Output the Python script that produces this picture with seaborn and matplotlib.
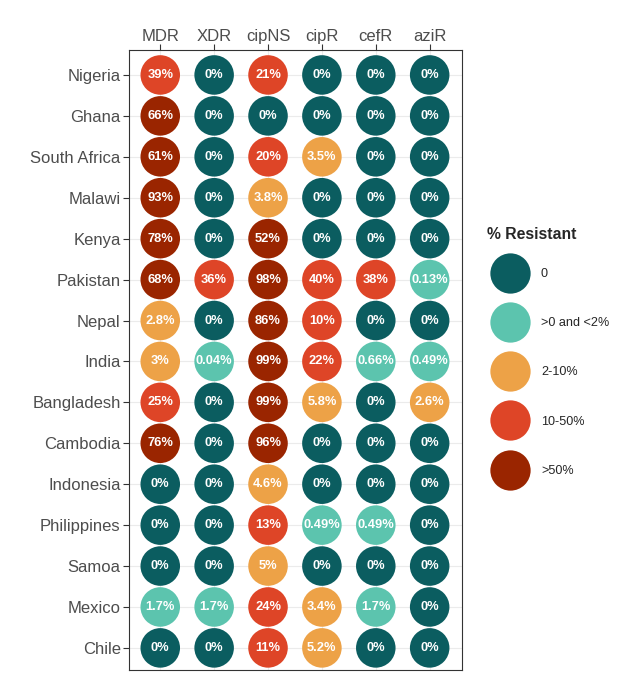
import matplotlib
matplotlib.use("Agg")
import matplotlib.pyplot as plt
from matplotlib.lines import Line2D
from matplotlib.transforms import ScaledTranslation
import seaborn as sns
import pandas as pd
import numpy as np

countries = ["Nigeria", "Ghana", "South Africa", "Malawi", "Kenya", "Pakistan", "Nepal",
             "India", "Bangladesh", "Cambodia", "Indonesia", "Philippines", "Samoa",
             "Mexico", "Chile"]
markers = ["MDR", "XDR", "cipNS", "cipR", "cefR", "aziR"]

MDR   = [39, 66, 61, 93, 78, 68, 2.8, 3, 25, 76, 0, 0, 0, 1.7, 0]
XDR   = [0, 0, 0, 0, 0, 36, 0, 0.04, 0, 0, 0, 0, 0, 1.7, 0]
cipNS = [21, 0, 20, 3.8, 52, 98, 86, 99, 99, 96, 4.6, 13, 5, 24, 11]
cipR  = [0, 0, 3.5, 0, 0, 40, 10, 22, 5.8, 0, 0, 0.49, 0, 3.4, 5.2]
cefR  = [0, 0, 0, 0, 0, 38, 0, 0.66, 0, 0, 0, 0.49, 0, 1.7, 0]
aziR  = [0, 0, 0, 0, 0, 0.13, 0, 0.49, 2.6, 0, 0, 0, 0, 0, 0]

categories = ["0", ">0 and <2%", "2-10%", "10-50%", ">50%"]
colors = ["#0B5D60", "#5CC4AE", "#EDA247", "#DE4527", "#9A2500"]

def categorize(v):
    if v == 0:
        return "0"
    if v < 2:
        return ">0 and <2%"
    if v < 10:
        return "2-10%"
    if v <= 50:
        return "10-50%"
    return ">50%"

def fmt(v):
    return f"{v:g}%"

series = {"MDR": MDR, "XDR": XDR, "cipNS": cipNS, "cipR": cipR, "cefR": cefR, "aziR": aziR}
rows = []
for m in markers:
    for i, c in enumerate(countries):
        v = series[m][i]
        rows.append({"marker": m, "country": c, "x": markers.index(m), "y": i,
                     "value": v, "cat": categorize(v), "label": fmt(v)})
df = pd.DataFrame(rows)

sns.set_theme(style="whitegrid")
plt.rcParams["font.family"] = ["Liberation Sans", "DejaVu Sans"]

fig = plt.figure(figsize=(6.28, 6.80), dpi=100)
ax = fig.add_axes([129/628, 10/680, 333/628, 620/680])

palette = dict(zip(categories, colors))
sns.scatterplot(data=df, x="x", y="y", hue="cat", hue_order=categories, palette=palette,
                s=810, linewidth=0, ax=ax, legend=False, zorder=3)

for _, r in df.iterrows():
    ax.text(r.x, r.y, r.label, ha="center", va="center", color="white",
            fontsize=9.3, fontweight="bold", zorder=4)

ax.set_xlim(-0.58, 5.6)
ax.set_ylim(14.54, -0.61)
ax.set_xticks(range(len(markers)))
ax.set_xticklabels(markers)
ax.set_yticks(range(len(countries)))
ax.set_yticklabels(countries)
ax.xaxis.tick_top()
ax.set_xlabel("")
ax.set_ylabel("")
ax.tick_params(axis="both", labelsize=12, labelcolor="#4D4D4D", length=4, width=0.8,
               color="#333333")
ax.tick_params(axis="x", top=True, bottom=False, pad=0.5)
ax.tick_params(axis="y", left=True, pad=2)
ax.grid(True, color="#EBEBEB", linewidth=0.8, zorder=0)
ax.set_axisbelow(True)
for sp in ax.spines.values():
    sp.set_visible(True)
    sp.set_color("#333333")
    sp.set_linewidth(0.8)
ax.set_facecolor("white")

handles = [Line2D([0], [0], marker="o", linestyle="", markersize=29,
                  markerfacecolor=c, markeredgewidth=0) for c in colors]
leg = fig.legend(handles, categories, title="% Resistant", loc="upper left",
                 bbox_to_anchor=(476/628, 1 - 216/680), frameon=False,
                 fontsize=9.1, title_fontsize=11.3, handlelength=3.64,
                 handleheight=3.0, labelspacing=1.7, handletextpad=0.6,
                 alignment="left", borderpad=0.4)
leg.get_title().set_fontweight("bold")
for t in leg.get_texts():
    t.set_transform(t.get_transform() + ScaledTranslation(0, 3.3/72, fig.dpi_scale_trans))

fig.savefig("out.png", dpi=100, facecolor="white")
